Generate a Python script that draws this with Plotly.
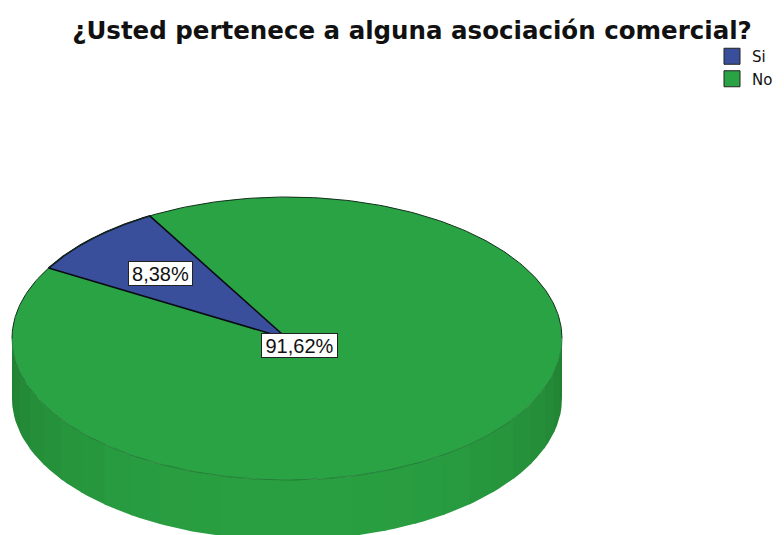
import numpy as np
import plotly.graph_objects as go

TITLE = "¿Usted pertenece a alguna asociación comercial?"
categories = ["Si", "No"]
percentages = [8.38, 91.62]
labels = ["8,38%", "91,62%"]
colors = ["#3A4F9B", "#2AA344"]

W, H = 784, 535
CX, CY, RX, RY = 287, 338.5, 275, 141.5   # pixel geometry of the pie top
DEPTH = 60 / RY                           # pie thickness in unit-circle terms
START = 150.1                             # degrees, first slice edge
LABEL_R = [0.65, 0.065]
LABEL_W = [63, 75]


def arc(a0, a1, n=180):
    t = np.radians(np.linspace(a0, a1, n))
    return np.cos(t), np.sin(t)


fig = go.Figure()

# side wall, banded shading like the faceted 3D pie
dark, light = np.array([0x20, 0x7E, 0x31]), np.array([0x2A, 0xA0, 0x42])
bands = 26
edges = np.linspace(180, 360, bands + 1)
for a0, a1 in zip(edges[:-1], edges[1:]):
    x, y = arc(a0, a1 + 0.4, 12)
    f = np.sin(np.radians((a0 + a1) / 2 - 180)) ** 0.8
    c = (dark + (light - dark) * f).astype(int)
    fig.add_trace(go.Scatter(
        x=np.r_[x, x[::-1]], y=np.r_[y, y[::-1] - DEPTH],
        mode="lines", fill="toself", fillcolor=f"rgb({c[0]},{c[1]},{c[2]})",
        line=dict(width=0), hoverinfo="skip", showlegend=False))

# top slices, angles derived from the values
total = sum(percentages)
angle = START
spans = []
for p in percentages:
    spans.append((angle, angle - 360 * p / total))
    angle = spans[-1][1]

order = [1, 0]
for i in order:
    a0, a1 = spans[i]
    x, y = arc(a0, a1, 360)
    if i == 0:
        x, y = np.r_[0, x, 0], np.r_[0, y, 0]
    fig.add_trace(go.Scatter(
        x=x, y=y, mode="lines", fill="toself", fillcolor=colors[i],
        line=dict(color="#0A0A14", width=1.6) if i == 0 else dict(width=0),
        name=categories[i], showlegend=False,
        hovertemplate=f"{categories[i]}: {labels[i]}<extra></extra>"))

# rim outlines: crisp on the back, faint on the front
x, y = arc(0, 180)
fig.add_trace(go.Scatter(x=x, y=y, mode="lines", line=dict(color="#10301A", width=1),
                         hoverinfo="skip", showlegend=False))
x, y = arc(180, 360)
fig.add_trace(go.Scatter(x=x, y=y, mode="lines", line=dict(color="#1C6E2E", width=0.8),
                         hoverinfo="skip", showlegend=False))

# legend keys
for name, col in zip(categories, colors):
    fig.add_trace(go.Scatter(
        x=[None], y=[None], mode="markers", name=name,
        marker=dict(symbol="square", size=16, color=col,
                    line=dict(color="#222222", width=1))))

# percentage labels
for (a0, a1), text, r, w in zip(spans, labels, LABEL_R, LABEL_W):
    mid = np.radians((a0 + a1) / 2)
    fig.add_annotation(
        x=r * np.cos(mid), y=r * np.sin(mid), text=text, showarrow=False,
        width=w, height=23, align="center",
        font=dict(family="Liberation Sans", size=20, color="#111111"),
        bgcolor="white", bordercolor="#222222", borderwidth=1, borderpad=0)

fig.update_layout(
    width=W, height=H, autosize=False,
    margin=dict(l=0, r=0, t=0, b=0),
    paper_bgcolor="white", plot_bgcolor="white",
    title=dict(text=f"<b>{TITLE}</b>", x=412 / W, xanchor="center", y=1 - 30 / H,
               yanchor="middle",
               font=dict(family="DejaVu Sans", size=24.5, color="#111111")),
    xaxis=dict(range=[-CX / RX, (W - CX) / RX], visible=False, fixedrange=True),
    yaxis=dict(range=[(CY - H) / RY, CY / RY], visible=False, fixedrange=True),
    legend=dict(x=712 / W, y=1 - 40 / H, xanchor="left", yanchor="top",
                font=dict(family="DejaVu Sans", size=15, color="#111111"),
                bgcolor="rgba(0,0,0,0)", itemclick=False, itemdoubleclick=False,
                tracegroupgap=0),
)

fig.write_html(
    "out.html",
    config=dict(displayModeBar=False),
    post_script="document.body.style.margin='0';document.documentElement.style.overflow='hidden';",
)
